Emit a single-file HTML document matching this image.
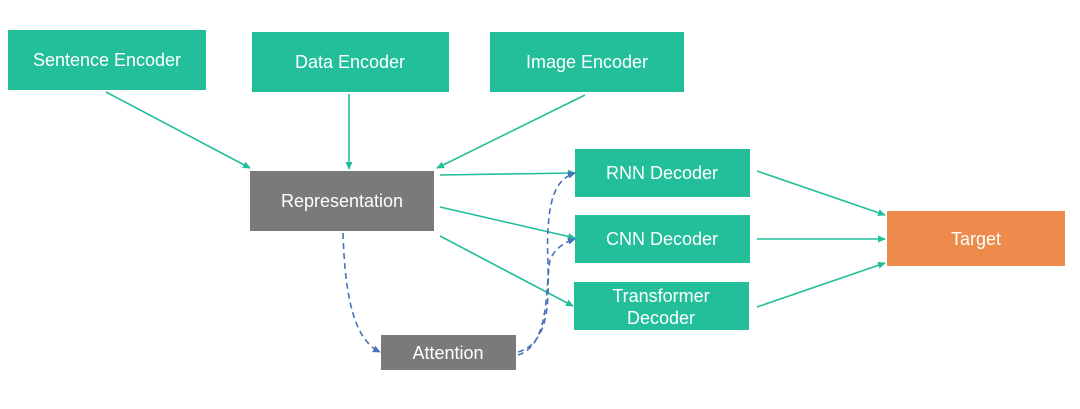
<!DOCTYPE html>
<html><head><meta charset="utf-8"><style>
html,body{margin:0;padding:0;background:#fff;width:1080px;height:409px;overflow:hidden}
svg text{font-family:"Liberation Sans",sans-serif;font-size:18px;fill:#fff;text-anchor:middle;dominant-baseline:central}
</style></head><body>
<svg width="1080" height="409" viewBox="0 0 1080 409" xmlns="http://www.w3.org/2000/svg">
<defs>
<marker id="g" markerWidth="8" markerHeight="8" refX="7" refY="4" orient="auto" markerUnits="userSpaceOnUse"><path d="M0,0.5 L8,4 L0,7.5 Z" fill="#22bf9a"/></marker>
<marker id="b" markerWidth="8" markerHeight="8" refX="7" refY="4" orient="auto" markerUnits="userSpaceOnUse"><path d="M0,0.5 L8,4 L0,7.5 Z" fill="#4a72b8"/></marker>
</defs>
<g fill="#22bf9a">
<rect x="8" y="30" width="198" height="60"/>
<rect x="252" y="32" width="197" height="60"/>
<rect x="490" y="32" width="194" height="60"/>
<rect x="575" y="149" width="175" height="48"/>
<rect x="575" y="215" width="175" height="48"/>
<rect x="574" y="282" width="175" height="48"/>
</g>
<rect x="250" y="171" width="184" height="60" fill="#7a7a7a"/>
<rect x="381" y="335" width="135" height="35" fill="#7a7a7a"/>
<rect x="887" y="211" width="178" height="55" fill="#ec8b4c"/>
<text x="107" y="60">Sentence Encoder</text>
<text x="350" y="62">Data Encoder</text>
<text x="587" y="62">Image Encoder</text>
<text x="342" y="201">Representation</text>
<text x="448" y="353">Attention</text>
<text x="662" y="173">RNN Decoder</text>
<text x="662" y="239">CNN Decoder</text>
<text x="661" y="296">Transformer</text>
<text x="661" y="318">Decoder</text>
<text x="976" y="239">Target</text>
<g stroke="#22bf9a" stroke-width="1.6" fill="none" marker-end="url(#g)">
<line x1="106" y1="92" x2="250" y2="168"/>
<line x1="349" y1="94" x2="349" y2="169"/>
<line x1="585" y1="95" x2="437" y2="168"/>
<line x1="440" y1="175" x2="575" y2="173"/>
<line x1="440" y1="207" x2="575" y2="238"/>
<line x1="440" y1="236" x2="573" y2="306"/>
<line x1="757" y1="171" x2="885" y2="215"/>
<line x1="757" y1="239" x2="885" y2="239"/>
<line x1="757" y1="307" x2="885" y2="263"/>
</g>
<g stroke="#4a72b8" stroke-width="1.6" fill="none" stroke-dasharray="6,4" marker-end="url(#b)">
<path d="M343,233 C345,300 355,340 380,352"/>
<path d="M518,352 C560,340 545,270 548,230 C550,190 560,178 575,173"/>
<path d="M518,355 C550,345 545,290 550,260 C555,248 565,242 575,239"/>
</g>
</svg>
</body></html>
